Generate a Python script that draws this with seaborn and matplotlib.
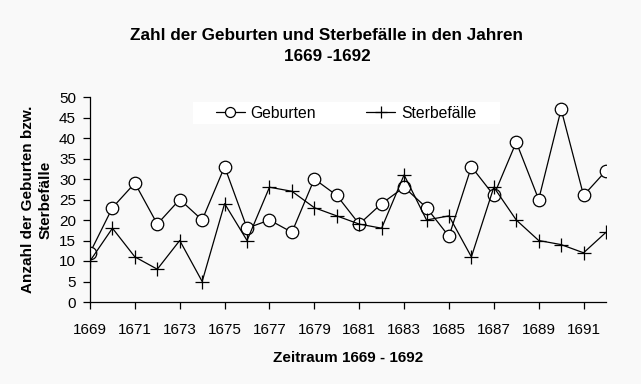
import numpy as np
import pandas as pd
import matplotlib
import matplotlib.pyplot as plt
import seaborn as sns
from matplotlib.patches import Rectangle

matplotlib.use('Agg')

# data
jahre = list(range(1669, 1693))
geburten = [12, 23, 29, 19, 25, 20, 33, 18, 20, 17, 30, 26,
            19, 24, 28, 23, 16, 33, 26, 39, 25, 47, 26, 32]
sterbefaelle = [10, 18, 11, 8, 15, 5, 24, 15, 28, 27, 23, 21,
                19, 18, 31, 20, 21, 11, 28, 20, 15, 14, 12, 17]
x_ticks = list(range(1669, 1692, 2))
y_ticks = list(range(0, 51, 5))

sns.set_theme(style="white")
plt.rcParams['font.family'] = ['Liberation Sans', 'DejaVu Sans']
plt.rcParams['text.color'] = 'black'
plt.rcParams['axes.labelcolor'] = 'black'

bg = '#f9f9f9'
fig = plt.figure(figsize=(6.41, 3.84), dpi=100, facecolor=bg)
ax = fig.add_axes([90 / 641, 1 - 302 / 384, 516 / 641, 205 / 384])
ax.set_facecolor(bg)

df = pd.DataFrame({'Jahr': jahre, 'Geburten': geburten, 'Sterbefälle': sterbefaelle})

sns.lineplot(data=df, x='Jahr', y='Geburten', ax=ax, color='black', lw=0.9,
             marker='o', markersize=9, markerfacecolor='white',
             markeredgecolor='black', markeredgewidth=0.9, label='Geburten')
sns.lineplot(data=df, x='Jahr', y='Sterbefälle', ax=ax, color='black', lw=0.9,
             marker='+', markersize=10, markeredgewidth=0.9,
             markeredgecolor='black', label='Sterbefälle')

ax.set_xlim(1669, 1692)
ax.set_ylim(0, 50)
ax.set_xticks(x_ticks)
ax.set_yticks(y_ticks)
ax.tick_params(axis='x', direction='out', length=5, width=0.9, pad=10,
               labelsize=11, colors='black', bottom=True)
ax.tick_params(axis='y', direction='out', length=5, width=0.9, pad=5,
               labelsize=11, colors='black', left=True)
for s in ['top', 'right']:
    ax.spines[s].set_visible(False)
for s in ['left', 'bottom']:
    ax.spines[s].set_color('black')
    ax.spines[s].set_linewidth(0.9)

ax.set_xlabel('Zeitraum 1669 - 1692', fontsize=11, fontweight='bold', labelpad=10)
ax.set_ylabel('Anzahl der Geburten bzw.\nSterbefälle', fontsize=11,
              fontweight='bold', labelpad=5, linespacing=1.3)

fig.text(0.51, 1 - 46 / 384, 'Zahl der Geburten und Sterbefälle in den Jahren\n1669 -1692',
         ha='center', va='center', fontsize=12.3, fontweight='bold', linespacing=1.5)

# white legend area like the original (behind lines and legend)
ax.add_patch(Rectangle((193 / 641, 1 - 124 / 384), 307 / 641, 22 / 384,
                       transform=fig.transFigure, facecolor='white',
                       edgecolor='none', zorder=1.5, clip_on=False))
leg = ax.legend(loc='center', bbox_to_anchor=((346 - 90) / 516, (302 - 113) / 205),
                ncol=2, frameon=False, fontsize=11.3,
                handlelength=1.85, handletextpad=0.35, columnspacing=3.2,
                borderpad=0.25, markerscale=0.8)
for t in leg.get_texts():
    t.set_color('black')

fig.savefig('out.png', dpi=100, facecolor=bg)
